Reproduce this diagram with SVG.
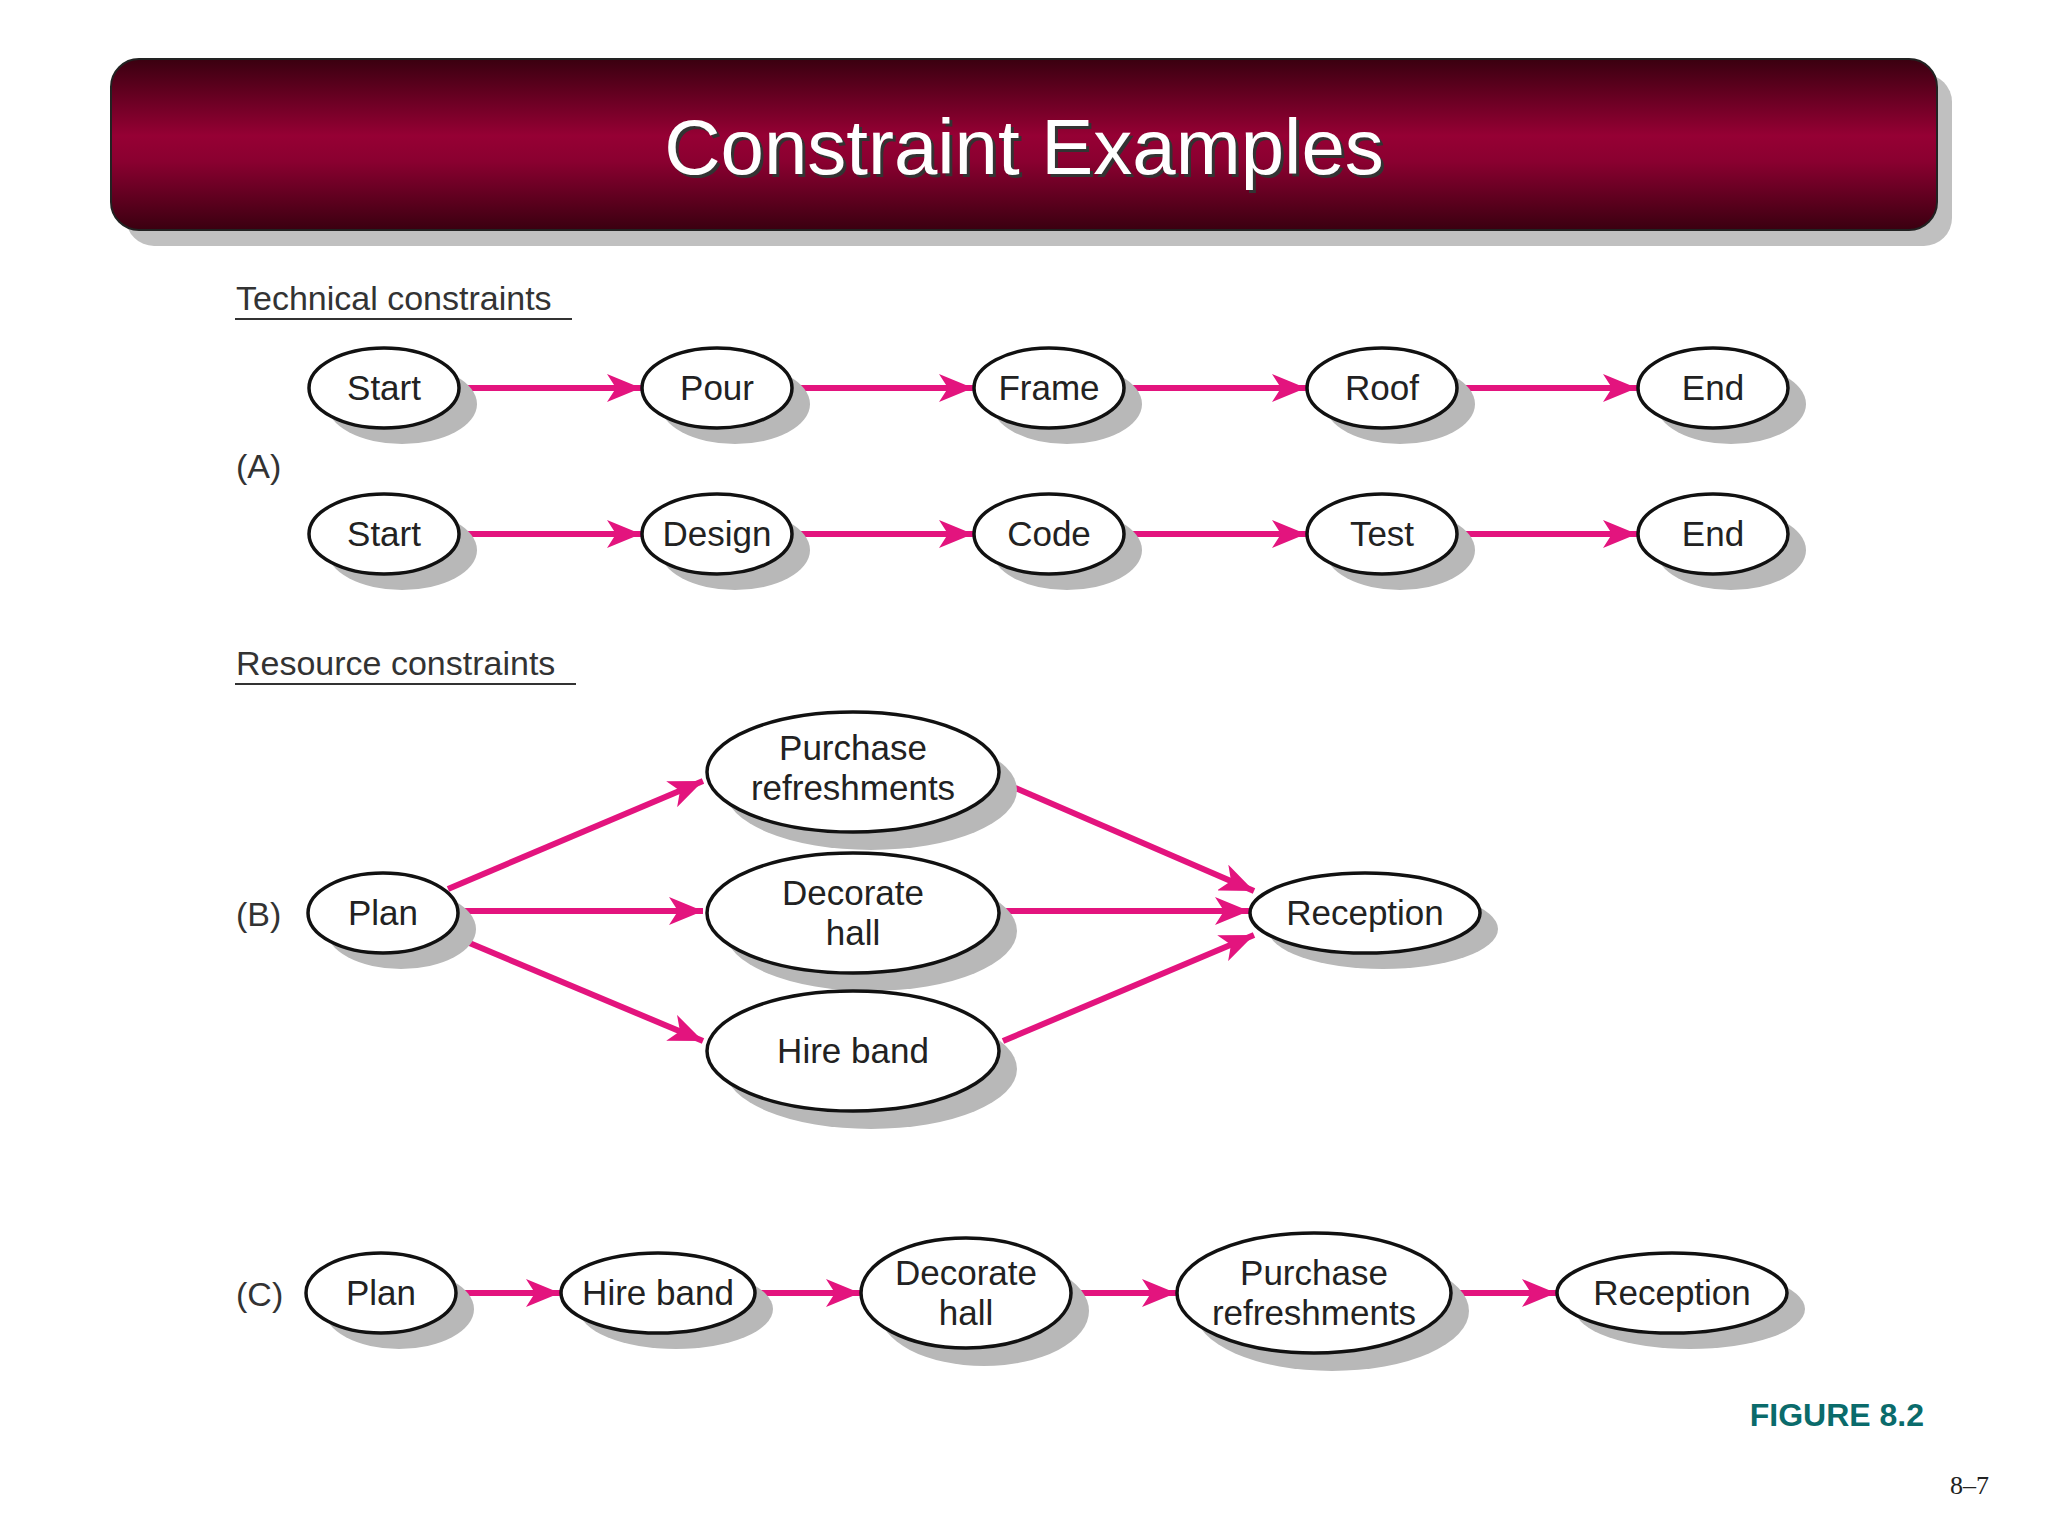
<svg xmlns="http://www.w3.org/2000/svg" width="2048" height="1536" viewBox="0 0 2048 1536">
<defs>
<linearGradient id="tg" x1="0" y1="0" x2="0" y2="1">
<stop offset="0" stop-color="#3a0010"/><stop offset="0.45" stop-color="#960034"/><stop offset="0.6" stop-color="#8a0030"/><stop offset="1" stop-color="#3a0010"/>
</linearGradient>
<marker id="ah" markerUnits="userSpaceOnUse" markerWidth="36" markerHeight="28" refX="34" refY="14" orient="auto">
<path d="M0,0 L34,14 L0,28 L9,14 Z" fill="#e3147e"/>
</marker>
<style>
.sh{fill:#b8b8b8}
.nd{fill:#fff;stroke:#111;stroke-width:3.5}
.t{font-family:"Liberation Sans",Arial,sans-serif;font-size:35px;fill:#222;text-anchor:middle}
.lb{font-family:"Liberation Sans",Arial,sans-serif;font-size:34px;fill:#333}
.e{stroke:#e3147e;stroke-width:6;fill:none;marker-end:url(#ah)}
</style>
</defs>
<rect width="2048" height="1536" fill="#fff"/>
<rect x="126" y="74" width="1826" height="172" rx="28" fill="#c0c0c0"/>
<rect x="111" y="59" width="1826" height="171" rx="28" fill="url(#tg)" stroke="#222" stroke-width="2"/>
<text x="1024" y="174" text-anchor="middle" font-family="'Liberation Sans',Arial,sans-serif" font-size="78" fill="#333" transform="translate(3,3)">Constraint Examples</text>
<text x="1024" y="174" text-anchor="middle" font-family="'Liberation Sans',Arial,sans-serif" font-size="78" fill="#fff">Constraint Examples</text>

<text class="lb" x="236" y="310">Technical constraints</text>
<line x1="235" y1="319" x2="572" y2="319" stroke="#333" stroke-width="2"/>
<text class="lb" x="236" y="478">(A)</text>
<text class="lb" x="236" y="675">Resource constraints</text>
<line x1="235" y1="684" x2="576" y2="684" stroke="#333" stroke-width="2"/>
<text class="lb" x="236" y="926">(B)</text>
<text class="lb" x="236" y="1306">(C)</text>

<g id="connectors">
<line class="e" x1="459" y1="388" x2="641" y2="388"/>
<line class="e" x1="792" y1="388" x2="973" y2="388"/>
<line class="e" x1="1124" y1="388" x2="1306" y2="388"/>
<line class="e" x1="1457" y1="388" x2="1637" y2="388"/>
<line class="e" x1="459" y1="534" x2="641" y2="534"/>
<line class="e" x1="792" y1="534" x2="973" y2="534"/>
<line class="e" x1="1124" y1="534" x2="1306" y2="534"/>
<line class="e" x1="1457" y1="534" x2="1637" y2="534"/>
<line class="e" x1="448" y1="889" x2="703" y2="781"/>
<line class="e" x1="458" y1="911" x2="703" y2="911"/>
<line class="e" x1="448" y1="934" x2="703" y2="1041"/>
<line class="e" x1="1006" y1="784" x2="1254" y2="891"/>
<line class="e" x1="999" y1="911" x2="1249" y2="911"/>
<line class="e" x1="1003" y1="1041" x2="1254" y2="935"/>
<line class="e" x1="456" y1="1293" x2="560" y2="1293"/>
<line class="e" x1="756" y1="1293" x2="860" y2="1293"/>
<line class="e" x1="1072" y1="1293" x2="1176" y2="1293"/>
<line class="e" x1="1452" y1="1293" x2="1556" y2="1293"/>
</g>

<g id="a1"><ellipse class="sh" cx="402" cy="404" rx="75" ry="40"/><ellipse class="nd" cx="384" cy="388" rx="75" ry="40"/><text class="t" x="384" y="400">Start</text></g>
<g id="a2"><ellipse class="sh" cx="735" cy="404" rx="75" ry="40"/><ellipse class="nd" cx="717" cy="388" rx="75" ry="40"/><text class="t" x="717" y="400">Pour</text></g>
<g id="a3"><ellipse class="sh" cx="1067" cy="404" rx="75" ry="40"/><ellipse class="nd" cx="1049" cy="388" rx="75" ry="40"/><text class="t" x="1049" y="400">Frame</text></g>
<g id="a4"><ellipse class="sh" cx="1400" cy="404" rx="75" ry="40"/><ellipse class="nd" cx="1382" cy="388" rx="75" ry="40"/><text class="t" x="1382" y="400">Roof</text></g>
<g id="a5"><ellipse class="sh" cx="1731" cy="404" rx="75" ry="40"/><ellipse class="nd" cx="1713" cy="388" rx="75" ry="40"/><text class="t" x="1713" y="400">End</text></g>

<g id="b1"><ellipse class="sh" cx="402" cy="550" rx="75" ry="40"/><ellipse class="nd" cx="384" cy="534" rx="75" ry="40"/><text class="t" x="384" y="546">Start</text></g>
<g id="b2"><ellipse class="sh" cx="735" cy="550" rx="75" ry="40"/><ellipse class="nd" cx="717" cy="534" rx="75" ry="40"/><text class="t" x="717" y="546">Design</text></g>
<g id="b3"><ellipse class="sh" cx="1067" cy="550" rx="75" ry="40"/><ellipse class="nd" cx="1049" cy="534" rx="75" ry="40"/><text class="t" x="1049" y="546">Code</text></g>
<g id="b4"><ellipse class="sh" cx="1400" cy="550" rx="75" ry="40"/><ellipse class="nd" cx="1382" cy="534" rx="75" ry="40"/><text class="t" x="1382" y="546">Test</text></g>
<g id="b5"><ellipse class="sh" cx="1731" cy="550" rx="75" ry="40"/><ellipse class="nd" cx="1713" cy="534" rx="75" ry="40"/><text class="t" x="1713" y="546">End</text></g>

<g id="c1"><ellipse class="sh" cx="401" cy="929" rx="75" ry="40"/><ellipse class="nd" cx="383" cy="913" rx="75" ry="40"/><text class="t" x="383" y="925">Plan</text></g>
<g id="c2"><ellipse class="sh" cx="871" cy="790" rx="146" ry="60"/><ellipse class="nd" cx="853" cy="772" rx="146" ry="60"/><text class="t" x="853" y="760">Purchase</text><text class="t" x="853" y="800">refreshments</text></g>
<g id="c3"><ellipse class="sh" cx="871" cy="931" rx="146" ry="60"/><ellipse class="nd" cx="853" cy="913" rx="146" ry="60"/><text class="t" x="853" y="905">Decorate</text><text class="t" x="853" y="945">hall</text></g>
<g id="c4"><ellipse class="sh" cx="871" cy="1069" rx="146" ry="60"/><ellipse class="nd" cx="853" cy="1051" rx="146" ry="60"/><text class="t" x="853" y="1063">Hire band</text></g>
<g id="c5"><ellipse class="sh" cx="1383" cy="929" rx="115" ry="40"/><ellipse class="nd" cx="1365" cy="913" rx="115" ry="40"/><text class="t" x="1365" y="925">Reception</text></g>

<g id="d1"><ellipse class="sh" cx="399" cy="1309" rx="75" ry="40"/><ellipse class="nd" cx="381" cy="1293" rx="75" ry="40"/><text class="t" x="381" y="1305">Plan</text></g>
<g id="d2"><ellipse class="sh" cx="676" cy="1309" rx="97" ry="40"/><ellipse class="nd" cx="658" cy="1293" rx="97" ry="40"/><text class="t" x="658" y="1305">Hire band</text></g>
<g id="d3"><ellipse class="sh" cx="984" cy="1311" rx="105" ry="55"/><ellipse class="nd" cx="966" cy="1293" rx="105" ry="55"/><text class="t" x="966" y="1285">Decorate</text><text class="t" x="966" y="1325">hall</text></g>
<g id="d4"><ellipse class="sh" cx="1332" cy="1311" rx="137" ry="60"/><ellipse class="nd" cx="1314" cy="1293" rx="137" ry="60"/><text class="t" x="1314" y="1285">Purchase</text><text class="t" x="1314" y="1325">refreshments</text></g>
<g id="d5"><ellipse class="sh" cx="1690" cy="1309" rx="115" ry="40"/><ellipse class="nd" cx="1672" cy="1293" rx="115" ry="40"/><text class="t" x="1672" y="1305">Reception</text></g>

<text x="1924" y="1426" text-anchor="end" font-family="'Liberation Sans',Arial,sans-serif" font-size="32" font-weight="bold" fill="#0a6b6b">FIGURE 8.2</text>
<text x="1989" y="1494" text-anchor="end" font-family="'Liberation Serif','Times New Roman',serif" font-size="26" fill="#222">8–7</text>
</svg>
